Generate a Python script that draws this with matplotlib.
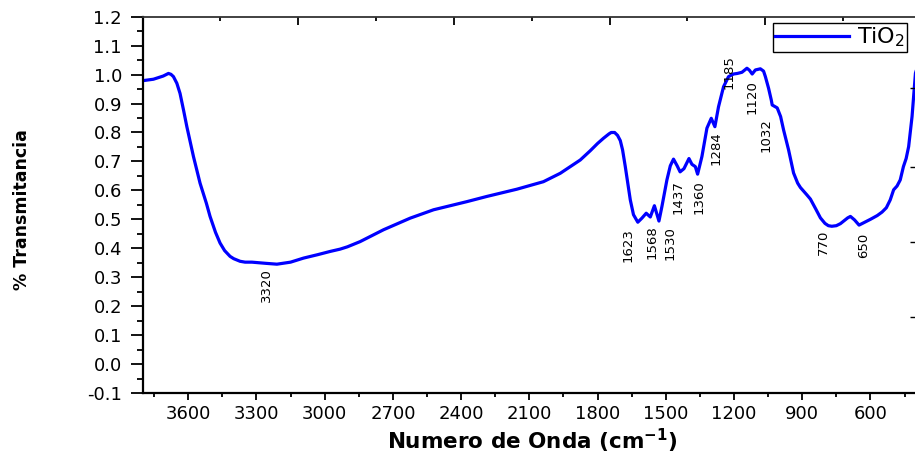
import matplotlib
matplotlib.use("Agg")
import matplotlib.pyplot as plt
from matplotlib import font_manager
from matplotlib.ticker import MultipleLocator, FormatStrFormatter

# espectro FTIR del TiO2 (numero de onda [cm-1], transmitancia)
wavenumber = [3800, 3753, 3710, 3687, 3676, 3665, 3650, 3636, 3620, 3606,
              3577, 3548, 3520, 3504, 3480, 3460, 3440, 3416, 3400, 3372,
              3350, 3320, 3290, 3260, 3210, 3150, 3093, 3030, 2976, 2932,
              2900, 2844, 2741, 2624, 2521, 2375, 2287, 2155, 2038, 1964,
              1876, 1832, 1800, 1774, 1750, 1740, 1725, 1712, 1700, 1690,
              1678, 1656, 1642, 1623, 1605, 1586, 1568, 1550, 1530, 1517,
              1495, 1480, 1466, 1450, 1437, 1420, 1398, 1385, 1370, 1360,
              1341, 1319, 1300, 1284, 1268, 1246, 1224, 1202, 1185, 1165,
              1143, 1132, 1120, 1106, 1084, 1070, 1062, 1048, 1036, 1032,
              1010, 995, 982, 960, 938, 920, 908, 879, 864, 840,
              820, 800, 785, 770, 750, 732, 700, 688, 670, 650,
              620, 600, 570, 549, 530, 513, 498, 483, 469, 455,
              443, 432, 417, 402, 400]
transmitance = [0.979, 0.984, 0.995, 1.004, 1.001, 0.993, 0.970, 0.935, 0.875, 0.820,
                0.717, 0.625, 0.555, 0.510, 0.455, 0.418, 0.392, 0.372, 0.364, 0.355,
                0.352, 0.352, 0.350, 0.348, 0.345, 0.352, 0.366, 0.378, 0.389, 0.397,
                0.405, 0.423, 0.464, 0.504, 0.533, 0.561, 0.579, 0.604, 0.630, 0.659,
                0.705, 0.737, 0.762, 0.780, 0.795, 0.800, 0.800, 0.790, 0.772, 0.740,
                0.682, 0.567, 0.516, 0.490, 0.504, 0.521, 0.508, 0.547, 0.494, 0.544,
                0.636, 0.685, 0.708, 0.685, 0.664, 0.675, 0.710, 0.690, 0.682, 0.656,
                0.717, 0.815, 0.849, 0.820, 0.889, 0.958, 0.993, 1.002, 1.004, 1.008,
                1.022, 1.015, 1.002, 1.016, 1.020, 1.012, 0.993, 0.953, 0.912, 0.895,
                0.885, 0.855, 0.809, 0.740, 0.660, 0.625, 0.610, 0.584, 0.570, 0.535,
                0.505, 0.486, 0.478, 0.476, 0.478, 0.485, 0.505, 0.510, 0.498, 0.480,
                0.492, 0.500, 0.513, 0.525, 0.540, 0.567, 0.602, 0.615, 0.636, 0.682,
                0.710, 0.751, 0.855, 1.005, 1.010]

# bandas senaladas y donde va cada etiqueta (x, extremo superior del texto)
peak_labels = ["3320", "1623", "1568", "1530", "1437", "1360",
               "1284", "1185", "1120", "1032", "770", "650"]
label_x = [3256, 1664, 1561, 1482, 1446, 1354, 1277, 1222, 1122, 1061, 805, 629]
label_y = [0.333, 0.470, 0.478, 0.478, 0.636, 0.636, 0.805, 1.068, 0.982, 0.850, 0.464, 0.453]

# marcas sueltas de los ejes superior y derecho
top_major = [3117, 2432, 1747, 1062]
top_minor = [3460, 2775, 2090, 1405, 720]
right_ticks = [0.955, 0.681, 0.422, 0.163]

names = {f.name for f in font_manager.fontManager.ttflist}
narrow = "Liberation Sans Narrow" if "Liberation Sans Narrow" in names else "DejaVu Sans"

fig = plt.figure(figsize=(9.15, 4.54), dpi=100)
ax = fig.add_axes([0.156, 0.1344, 0.845, 0.8288])

ax.plot(wavenumber, transmitance, color="#0000ff", linewidth=2.3, label="TiO$_2$")

ax.set_xlim(3800, 400)
ax.set_ylim(-0.1, 1.2)
ax.xaxis.set_minor_locator(MultipleLocator(150))
ax.yaxis.set_major_locator(MultipleLocator(0.1))
ax.yaxis.set_minor_locator(MultipleLocator(0.05))
ax.set_xticks(range(600, 3601, 300))
ax.yaxis.set_major_formatter(FormatStrFormatter("%.1f"))

for s in ["top", "right"]:
    ax.spines[s].set_visible(False)
for s in ["left", "bottom"]:
    ax.spines[s].set_linewidth(1.6)
ax.tick_params(axis="y", which="major", direction="out", length=9, width=1.3,
               pad=6, labelsize=13)
ax.tick_params(axis="y", which="minor", direction="out", length=4.5, width=1.3)
ax.tick_params(axis="x", which="major", direction="out", length=5, width=1.3,
               pad=4, labelsize=13)
ax.tick_params(axis="x", which="minor", direction="out", length=3, width=1.3)
for lab in ax.get_xticklabels() + ax.get_yticklabels():
    lab.set_family("DejaVu Sans")

for txt, lx, ly in zip(peak_labels, label_x, label_y):
    ax.text(lx, ly, txt, rotation=90, ha="center", va="top",
            fontsize=9.5, family=narrow)

leg = ax.legend(loc="upper right", bbox_to_anchor=(0.9885, 0.983), borderaxespad=0,
                fancybox=False, framealpha=1, edgecolor="black",
                prop={"family": "DejaVu Sans", "size": 16},
                handlelength=3.3, borderpad=0.12, handletextpad=0.35,
                handleheight=0.6)
leg.get_frame().set_linewidth(1.0)

# eje superior con sus marcas hacia dentro
ax_top = ax.twiny()
ax_top.set_xlim(3800, 400)
ax_top.set_xticks(top_major)
ax_top.set_xticks(top_minor, minor=True)
ax_top.tick_params(axis="x", which="major", direction="in", length=6, width=1.3,
                   labeltop=False, top=True)
ax_top.tick_params(axis="x", which="minor", direction="in", length=3, width=1.3)
for s in ["left", "right", "bottom"]:
    ax_top.spines[s].set_visible(False)
ax_top.spines["top"].set_color("#333333")
ax_top.spines["top"].set_linewidth(1.3)

# marcas del lado derecho, sin linea de eje
ax_r = ax.twinx()
ax_r.set_ylim(-0.1, 1.2)
ax_r.set_yticks(right_ticks)
ax_r.tick_params(axis="y", direction="in", length=4, width=1.0, labelright=False)
for s in ax_r.spines.values():
    s.set_visible(False)

fig.text(22 / 915, 1 - 210 / 454, "% Transmitancia", rotation=90, ha="center",
         va="center", fontsize=12.5, fontweight="bold", family=narrow)
fig.text(532 / 915, 1 - 441 / 454, r"Numero de Onda (cm$^{\mathbf{-1}}$)",
         ha="center", va="center", fontsize=15.5, fontweight="bold", family="DejaVu Sans")

fig.savefig("out.png", dpi=100)
